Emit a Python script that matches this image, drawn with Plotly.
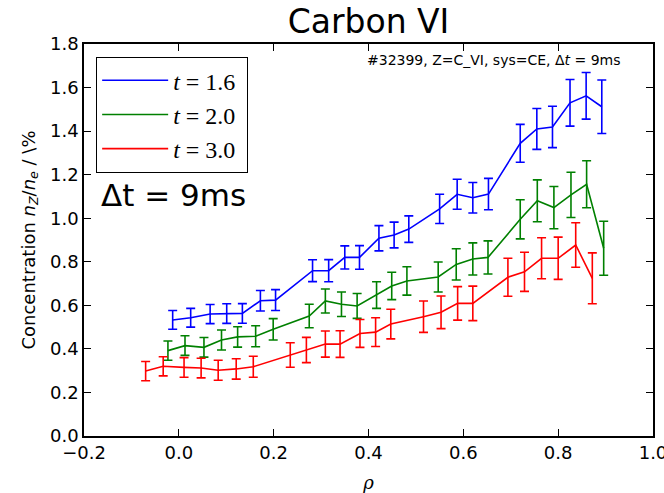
import plotly.graph_objects as go

# ---- data ----
rho_16 = [-0.013, 0.025, 0.066, 0.101, 0.134, 0.172, 0.204, 0.282, 0.316, 0.350, 0.381, 0.422,
          0.454, 0.485, 0.550, 0.587, 0.620, 0.653, 0.720, 0.755, 0.788, 0.825, 0.859, 0.892]
conc_16 = [0.533, 0.543, 0.560, 0.562, 0.563, 0.621, 0.624, 0.759, 0.759, 0.820, 0.820, 0.908,
           0.923, 0.950, 1.043, 1.110, 1.094, 1.111, 1.344, 1.410, 1.419, 1.530, 1.562, 1.512]
err_16 = [0.043, 0.043, 0.044, 0.045, 0.045, 0.047, 0.048, 0.050, 0.051, 0.053, 0.054, 0.058,
          0.059, 0.061, 0.067, 0.069, 0.070, 0.072, 0.087, 0.094, 0.095, 0.107, 0.107, 0.123]

rho_20 = [-0.023, 0.013, 0.053, 0.090, 0.124, 0.162, 0.199, 0.275, 0.309, 0.343, 0.376, 0.417,
          0.449, 0.481, 0.547, 0.585, 0.620, 0.652, 0.720, 0.756, 0.791, 0.827, 0.860, 0.896]
conc_20 = [0.392, 0.415, 0.407, 0.441, 0.455, 0.458, 0.490, 0.551, 0.620, 0.605, 0.597, 0.647,
           0.689, 0.712, 0.730, 0.788, 0.813, 0.820, 0.995, 1.080, 1.049, 1.107, 1.156, 0.862]
err_20 = [0.044, 0.045, 0.045, 0.046, 0.047, 0.048, 0.049, 0.054, 0.055, 0.056, 0.057, 0.061,
          0.063, 0.065, 0.069, 0.072, 0.074, 0.076, 0.090, 0.096, 0.097, 0.104, 0.108, 0.124]

rho_30 = [-0.070, -0.033, 0.011, 0.047, 0.083, 0.121, 0.157, 0.235, 0.269, 0.309, 0.340, 0.382,
          0.415, 0.447, 0.516, 0.553, 0.588, 0.620, 0.694, 0.729, 0.765, 0.800, 0.837, 0.872]
conc_30 = [0.298, 0.320, 0.315, 0.312, 0.302, 0.308, 0.318, 0.372, 0.395, 0.422, 0.422, 0.471,
           0.477, 0.514, 0.548, 0.568, 0.609, 0.609, 0.729, 0.754, 0.816, 0.816, 0.877, 0.724]
err_30 = [0.044, 0.044, 0.045, 0.045, 0.046, 0.047, 0.048, 0.056, 0.058, 0.060, 0.061, 0.064,
          0.066, 0.068, 0.072, 0.075, 0.077, 0.079, 0.087, 0.090, 0.094, 0.097, 0.102, 0.117]

series_names = ["<i>t</i> = 1.6 ", "<i>t</i> = 2.0 ", "<i>t</i> = 3.0 "]
series_colors = ["#0000ff", "#008000", "#ff0000"]
x_ticks = [-0.2, 0.0, 0.2, 0.4, 0.6, 0.8, 1.0]
y_ticks = [0.0, 0.2, 0.4, 0.6, 0.8, 1.0, 1.2, 1.4, 1.6, 1.8]

fig = go.Figure()
for name, color, xs, ys, es in zip(series_names, series_colors,
                                   [rho_16, rho_20, rho_30],
                                   [conc_16, conc_20, conc_30],
                                   [err_16, err_20, err_30]):
    fig.add_trace(go.Scatter(
        x=xs, y=ys, mode="lines", name=name,
        line=dict(color=color, width=1.6),
        error_y=dict(type="data", array=es, visible=True, color=color,
                     thickness=1.6, width=4.5),
    ))

axis_common = dict(
    showline=True, linecolor="black", linewidth=1.5, mirror="ticks",
    ticks="inside", ticklen=7, tickwidth=1, tickcolor="black",
    showgrid=False, zeroline=False, automargin=False,
    ticklabeloverflow="allow",
    tickfont=dict(family="DejaVu Sans", size=18, color="black"),
    tickformat=".1f",
)

fig.update_layout(
    width=664, height=493,
    margin=dict(l=84, r=11, t=44, b=57),
    paper_bgcolor="white", plot_bgcolor="white",
    title=dict(text="Carbon VI", x=0.5, xref="paper", y=1 - 21 / 493, yanchor="middle",
               font=dict(family="DejaVu Sans", size=33, color="black")),
    xaxis=dict(range=[-0.2, 1.0], tickvals=x_ticks,
               title=dict(text="<i>ρ</i>", standoff=14,
                          font=dict(family="DejaVu Serif", size=18, color="black")),
               **axis_common),
    yaxis=dict(range=[0, 1.8], tickvals=y_ticks,
               title=dict(text="Concentration <i>n</i><sub><i>Z</i></sub>/<i>n</i><sub><i>e</i></sub> / \\%",
                          standoff=10,
                          font=dict(family="DejaVu Sans", size=18, color="black")),
               **axis_common),
    legend=dict(x=0.021, y=0.967, xanchor="left", yanchor="top",
                bgcolor="white", bordercolor="black", borderwidth=1.2,
                font=dict(family="Liberation Serif", size=24, color="black"),
                itemwidth=66, tracegroupgap=0),
    showlegend=True,
)

fig.add_annotation(text="Δt = 9ms", xref="paper", yref="paper",
                   x=0.026, y=0.615, xanchor="left", yanchor="middle", showarrow=False,
                   font=dict(family="DejaVu Sans", size=31, color="black"))
fig.add_annotation(text="#32399, Z=C_VI, sys=CE, Δ<i>t</i> = 9ms", xref="paper", yref="paper",
                   x=0.72, y=0.959, xanchor="center", yanchor="middle", showarrow=False,
                   font=dict(family="DejaVu Sans", size=14, color="black"))

fig.write_html("out.html")
